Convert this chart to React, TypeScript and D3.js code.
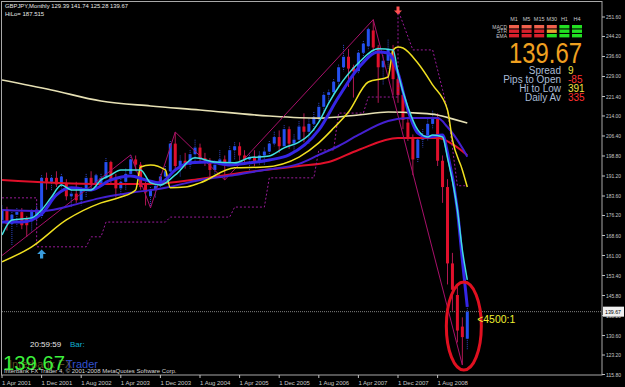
import React from "react";
import * as d3 from "d3";

// ---------- DATA ----------
// Monthly bars GBPJPY, index 0 = Apr 2001 ... 94 = Feb 2009
const opens = [174.5,178.5,173,176.5,177.5,175,174,176,176,190.5,189,190.5,188,188.5,183.5,184.5,182,186,190.5,188,188.5,190.5,196.5,190,186.5,189,192,197.5,195.5,188,183.5,186,187.5,191,193,203.5,195,197,195.5,199.5,202,198,197,193.5,195.5,197.5,196,201,202.5,199,197.5,198.5,196.5,199,200.5,203.5,206,202.5,209,203.5,205,210,208,211,213.5,217.5,222,223,227,232.5,236.5,232.5,231,238,240.5,246.5,240,232.5,235,239.5,228,222,211.5,205.5,198,205,206.5,211,213.5,197,187,158,146,134,129.39];
const highs = [180,179.5,177.5,179,179,176,178.5,180.5,191.5,192.5,191.5,193,192,190,186,189,187,192,193,192,192,198,197,192,190,194,199.2,199,196.5,189,187,188,192,195,204.5,207.9,199,200,201,205,203.5,200,198,197,201,199,202.5,204,204,201,200,201,200.5,202,204.5,208,208.5,210.5,210,207,212,215,213,215.5,219,223,224,228,233.5,241,239.5,233.5,239,242.5,247.5,250.6,241,237,243,241,231,223,213,207,206,209,213,216,215,199,190,162,149,137.5,141.74];
const lows = [172,170.5,165,172,171,168,170,173.5,175,186,185.5,187,186.5,182,179.5,181,180,183,186,186,187,189.5,188,183,184,186,191,193,186,180,179.1,183,186,189,192,193,191,194,194,197,196,195,191,191.5,195,189.7,195.5,197.5,197,195.5,193,195,195.5,195.5,199,202.5,200,202,201.5,200.5,204,204,203.5,208,212,215,218.5,221.5,225.5,231,225,221,230,236.5,239,238.5,219,226,232,222,219,209,204.5,191.5,196.5,202,204.5,209,195,181,150,140,128,119.4,125.28];
const closes = [178.5,173,176.5,177.5,172.5,172.5,178,178.5,190.5,189,190.5,188,191,183.5,184.5,182,186,190.5,188,191.5,190.5,196.5,190,186.5,189,192,197.5,195.5,187,185,186,187.5,191,193,203.5,195,197,195.5,199.5,202,198,197,193.5,195.5,197.5,196,201,202.5,199,197.5,198.5,196.5,199,200.5,203.5,206,202.5,209,203.5,205,210,208,211,213.5,217.5,222,223,227,232.5,236.5,232,231,238,241.5,247,240,232.5,235,239.5,228,222,212.5,205.5,197.5,205,206.5,211,213.5,197,187,158,148,132.5,130,139.67];

// Indicator lines: bar index / price
const slowMaIdx = [0,10,20,30,40,54,64,72,78,84,88,91,94];
const slowMaVal = [227.7,223.9,219.7,217.8,216.3,214.0,213.2,214.4,215.5,215.1,214.4,212.9,211.3];
const redMaIdx = [0,20,30,40,50,60,66,72,80,88,91,94];
const redMaVal = [189.7,188.2,188.2,190.1,192.8,195.0,196.5,201.1,205.6,205.6,203.3,199.1];
const purpleMaIdx = [0,8,16,20,26,33,40,47,53,60,64,68,72,78,82,88,90,93,94];
const purpleMaVal = [178.3,177.9,181.0,182.9,184.8,186.7,189.7,191.6,193.5,195.8,199.2,202.6,206.8,212.1,213.2,213.2,209.8,201.8,198.5];
const blueMaIdx = [0,4,8,11,14,18,22,26,29,32,35,38,42,46,50,54,58,64,68,72,76,78,80,82,84,86,89,90,92,93,94];
const blueMaVal = [173.7,173.7,176.8,184.0,186.7,185.9,189.7,191.2,189.7,188.6,193.5,196.2,196.5,195.4,196.2,197.3,199.2,208.7,221.2,232.2,238.3,237.9,230.3,216.3,207.5,206.0,206.8,200.0,178.3,159.3,141.5];
const cyanMaIdx = [0,2,6,8,10,12,14,18,20,22,24,28,30,32,35,39,43,47,50,54,57,60,62,64,66,68,72,76,79,80,82,84,86,87,89,90,92,93,94];
const cyanMaVal = [168.8,174.5,175.3,178.3,183.2,187.8,185.9,185.9,189.7,191.6,193.5,193.5,188.6,187.8,191.6,198.1,196.5,196.2,198.1,198.8,201.9,204.1,206.8,211.7,218.9,225.0,234.1,239.5,239.1,230.3,217.4,208.7,206.0,206.8,206.0,198.1,178.3,163.1,151.7];
const yellowIdx = [0,6,13,20,24,27,28,30,33,34,37,40,47,53,60,64,67,70,74,78,79,80,81,84,87,90,91,93,94];
const yellowVal = [158.6,164.3,174.5,181.0,183.2,185.9,194.6,195.4,193.5,186.7,187.0,188.6,194.3,194.6,198.4,203.8,209.4,215.5,226.9,228.8,239.1,240.2,239.8,234.1,225.8,216.3,204.9,193.5,187.0];
const stopIdx = [0,7,7,17,18,20,21,33,34,46,47,53,54,63,64,67,68,73,74,80,80,83,87,89,90,92,94];
const stopVal = [182.9,182.9,164.3,164.3,168.1,168.1,173.7,173.7,175.6,175.6,179.4,179.4,190.5,190.5,201.1,201.1,215.1,215.1,221.2,221.2,254.3,239.1,239.1,224.0,216.3,187.5,187.5];
const zigIdx = [0,26,30,35,45,75,93];
const zigVal = [161.0,199.2,179.1,207.9,189.7,250.6,119.4];

const priceTicks = [251.6,244.2,236.6,229.0,221.4,214.0,206.4,198.8,191.2,183.6,176.2,168.6,161.0,153.4,145.8,138.2,130.6,123.2,115.8];
const dateTickIdx = [0,8,16,24,32,40,48,56,64,72,80,88];
const dateTickLabels = ["1 Apr 2001","1 Dec 2001","1 Aug 2002","1 Apr 2003","1 Dec 2003","1 Aug 2004","1 Apr 2005","1 Dec 2005","1 Aug 2006","1 Apr 2007","1 Dec 2007","1 Aug 2008"];

const lastPrice = 139.67;
const hiLo = "187.515";
const tfLabels = ["M1","M5","M15","M30","H1","H4"];
const rowLabels = ["MACD","STR","EMA"];
const signals = [[-1,-1,-1],[-1,-1,-1],[-1,-1,-1],[-1,0,1],[1,1,1],[1,1,1]];
const statLabels = ["Spread","Pips to Open","Hi to Low","Daily Av"];
const statValues = ["9","-85","391","335"];
const buySignal = { i: 8, p: 163.3 };
const sellSignal = { i: 80, p: 255.6 };

// ---------- CHART ----------
const FONT = "'Liberation Sans', Arial, sans-serif";

export default function App() {
  const x = d3.scaleLinear().domain([0, 94]).range([2, 467.3]);
  const y = d3.scaleLinear().domain([115.8, 251.6]).range([374.5, 17]);
  const pts = (idx: number[], val: number[]) => idx.map((d, k) => [d, val[k]] as [number, number]);
  const smooth = d3.line<[number, number]>().x(d => x(d[0])).y(d => y(d[1])).curve(d3.curveMonotoneX);
  const straight = d3.line<[number, number]>().x(d => x(d[0])).y(d => y(d[1])).curve(d3.curveLinear);

  const bars = opens.map((o, i) => ({ i, o, h: highs[i], l: lows[i], c: closes[i] }));
  const yLast = y(lastPrice);

  const sigColor = (s: number, r: number) => (s < 0 ? (r === 0 ? "#F0604C" : "#D8202C") : s === 0 ? "#E8A030" : "#22E022");
  const statColors = ["#F0E040", "#FF3030", "#F0E040", "#FF3030"];

  const upX = x(buySignal.i), upY = y(buySignal.p);
  const dnX = x(sellSignal.i), dnY = y(sellSignal.p);

  return (
    <svg width={625} height={387} style={{ position: "fixed", left: 0, top: 0, background: "#000" }} fontFamily={FONT}>
      <rect x={0} y={0} width={625} height={387} fill="#000" />
      <defs>
        <clipPath id="plot">
          <rect x={2} y={2} width={600} height={373} />
        </clipPath>
      </defs>

      <g clipPath="url(#plot)">
        {/* current price line */}
        <line x1={2} x2={602} y1={yLast} y2={yLast} stroke="#808080" strokeDasharray="1,1" />

        {/* candles */}
        {bars.map(b => {
          const up = b.c >= b.o;
          const cx = x(b.i);
          const top = y(Math.max(b.o, b.c));
          const bot = y(Math.min(b.o, b.c));
          return (
            <g key={b.i}>
              <line x1={cx} x2={cx} y1={y(b.h)} y2={y(b.l)} stroke={up ? "#3048C8" : "#B01850"} strokeWidth={1} strokeDasharray={up ? "1,1" : undefined} />
              <rect x={cx - 1.5} y={top} width={3} height={Math.max(1, bot - top)} fill={up ? "#2450F0" : "#E0102C"} />
            </g>
          );
        })}

        {/* indicator lines */}
        <path d={smooth(pts(slowMaIdx, slowMaVal)) || ""} fill="none" stroke="#E6E0B4" strokeWidth={1.6} />
        <path d={smooth(pts(redMaIdx, redMaVal)) || ""} fill="none" stroke="#E0102A" strokeWidth={2} />
        <path d={straight(pts(stopIdx, stopVal)) || ""} fill="none" stroke="#9A1A9A" strokeWidth={1} strokeDasharray="2,2" />
        <path d={straight(pts(zigIdx, zigVal)) || ""} fill="none" stroke="#A8106A" strokeWidth={1} />
        <path d={smooth(pts(purpleMaIdx, purpleMaVal)) || ""} fill="none" stroke="#4420D0" strokeWidth={2} />
        <path d={smooth(pts(yellowIdx, yellowVal)) || ""} fill="none" stroke="#F0E020" strokeWidth={1.5} />
        <path d={smooth(pts(blueMaIdx, blueMaVal)) || ""} fill="none" stroke="#3526E6" strokeWidth={3} />
        <path d={smooth(pts(cyanMaIdx, cyanMaVal)) || ""} fill="none" stroke="#40E0E0" strokeWidth={1.5} />

        {/* signal arrows */}
        <polygon
          points={`${upX},${upY} ${upX + 4.5},${upY + 4.5} ${upX + 1.6},${upY + 4.5} ${upX + 1.6},${upY + 9} ${upX - 1.6},${upY + 9} ${upX - 1.6},${upY + 4.5} ${upX - 4.5},${upY + 4.5}`}
          fill="#3A9CDC"
        />
        <polygon
          points={`${dnX},${dnY + 8} ${dnX + 4},${dnY + 4} ${dnX + 1.5},${dnY + 4} ${dnX + 1.5},${dnY} ${dnX - 1.5},${dnY} ${dnX - 1.5},${dnY + 4} ${dnX - 4},${dnY + 4}`}
          fill="#FF5050"
        />

        {/* highlight ellipse */}
        <ellipse cx={x(93.3)} cy={y(134.2)} rx={17.5} ry={44} fill="none" stroke="#E01020" strokeWidth={3} />
        <text x={x(96)} y={yLast + 11} fontSize={11} fill="#F0F030" textLength={38} lengthAdjust="spacingAndGlyphs">{"<4500:1"}</text>
      </g>

      {/* frame */}
      <rect x={1.5} y={1.5} width={600.5} height={373.5} fill="none" stroke="#A8A8A8" strokeWidth={1} />

      {/* price axis */}
      {priceTicks.map(p => (
        <g key={p}>
          <line x1={602} x2={605} y1={y(p)} y2={y(p)} stroke="#C0C0C0" />
          <text x={606} y={y(p) + 2} fontSize={6} fill="#C8C8C8" textLength={15} lengthAdjust="spacingAndGlyphs">{p.toFixed(2)}</text>
        </g>
      ))}
      <rect x={603} y={yLast - 5} width={21} height={10} fill="#F0F0F0" />
      <text x={605} y={yLast + 2.2} fontSize={6} fill="#000" textLength={16} lengthAdjust="spacingAndGlyphs">{lastPrice.toFixed(2)}</text>

      {/* date axis */}
      {dateTickIdx.map((i, k) => (
        <g key={i}>
          <line x1={x(i)} x2={x(i)} y1={375} y2={378} stroke="#C0C0C0" />
          <text x={x(i)} y={384.5} fontSize={6} fill="#C8C8C8">{dateTickLabels[k]}</text>
        </g>
      ))}

      {/* top-left title */}
      <text x={5} y={8} fontSize={6} fill="#E8E8E8" textLength={123} lengthAdjust="spacingAndGlyphs">
        {`GBPJPY,Monthly  ${opens[94].toFixed(2)} ${highs[94].toFixed(2)} ${lows[94].toFixed(2)} ${closes[94].toFixed(2)}`}
      </text>
      <text x={5} y={15.5} fontSize={6} fill="#E8E8E8">{`HiLo= ${hiLo}`}</text>

      {/* signal table */}
      {tfLabels.map((t, c) => (
        <text key={t} x={514 + c * 12.6} y={21} fontSize={5.5} fill="#C8C8C8" textAnchor="middle">{t}</text>
      ))}
      {rowLabels.map((r, k) => (
        <text key={r} x={507} y={28.5 + k * 4.6} fontSize={5} fill="#C8C8C8" textAnchor="end">{r}</text>
      ))}
      {signals.map((col, c) =>
        col.map((s, r) => (
          <rect key={`${c}-${r}`} x={509 + c * 12.6} y={25 + r * 4.5} width={10} height={3.4} fill={sigColor(s, r)} />
        ))
      )}
      <text x={509} y={63} fontSize={29} fill="#F0A020" textLength={73} lengthAdjust="spacingAndGlyphs">{lastPrice.toFixed(2)}</text>
      {statLabels.map((l, k) => (
        <g key={l}>
          <text x={561} y={73.5 + k * 9} fontSize={10} fill="#A9BCD6" textAnchor="end">{l}</text>
          <text x={568} y={73.5 + k * 9} fontSize={10} fill={statColors[k]}>{statValues[k]}</text>
        </g>
      ))}

      {/* bottom-left info */}
      <text x={30} y={347} fontSize={8} fill="#E8E8E8">20:59:59</text>
      <text x={70} y={347} fontSize={8} fill="#10B0D0">Bar:</text>
      <text x={9} y={368} fontSize={11} fill="#5A4A20">Interbank FX</text>
      <text x={66} y={368} fontSize={11} fill="#3050D0">Trader</text>
      <text x={3} y={370} fontSize={21} fill="#3CF03C" textLength={62} lengthAdjust="spacingAndGlyphs">{lastPrice.toFixed(2)}</text>
      <text x={4} y={373} fontSize={6} fill="#D8D8D8">Interbank FX Trader 4, © 2001-2008 MetaQuotes Software Corp.</text>
    </svg>
  );
}
